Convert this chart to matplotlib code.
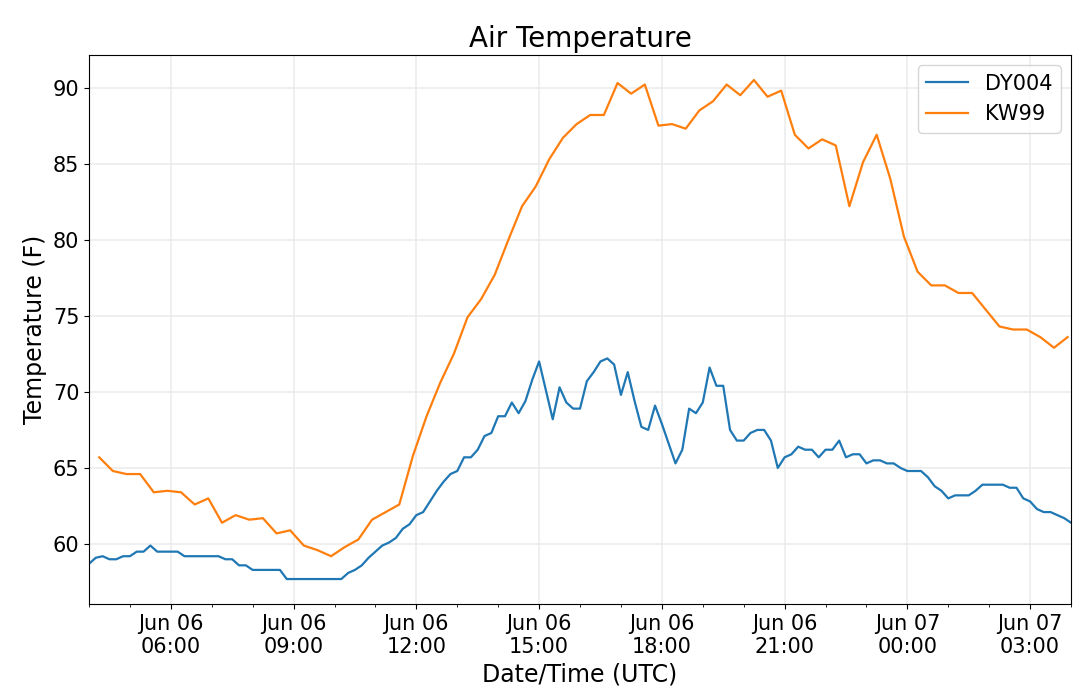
import pandas as pd
import matplotlib
matplotlib.use('Agg')
import matplotlib.pyplot as plt
import matplotlib.dates as mdates

#-----------------数据------------------
#DY004 每10分钟一个读数
dy004_temp = [58.7, 59.1, 59.2, 59.0, 59.0, 59.2, 59.2, 59.5, 59.5, 59.9,
              59.5, 59.5, 59.5, 59.5, 59.2, 59.2, 59.2, 59.2, 59.2, 59.2,
              59.0, 59.0, 58.6, 58.6, 58.3, 58.3, 58.3, 58.3, 58.3, 57.7,
              57.7, 57.7, 57.7, 57.7, 57.7, 57.7, 57.7, 57.7, 58.1, 58.3,
              58.6, 59.1, 59.5, 59.9, 60.1, 60.4, 61.0, 61.3, 61.9, 62.1,
              62.8, 63.5, 64.1, 64.6, 64.8, 65.7, 65.7, 66.2, 67.1, 67.3,
              68.4, 68.4, 69.3, 68.6, 69.4, 70.8, 72.0, 70.1, 68.2, 70.3,
              69.3, 68.9, 68.9, 70.7, 71.3, 72.0, 72.2, 71.8, 69.8, 71.3,
              69.4, 67.7, 67.5, 69.1, 67.9, 66.6, 65.3, 66.2, 68.9, 68.6,
              69.3, 71.6, 70.4, 70.4, 67.5, 66.8, 66.8, 67.3, 67.5, 67.5,
              66.8, 65.0, 65.7, 65.9, 66.4, 66.2, 66.2, 65.7, 66.2, 66.2,
              66.8, 65.7, 65.9, 65.9, 65.3, 65.5, 65.5, 65.3, 65.3, 65.0,
              64.8, 64.8, 64.8, 64.4, 63.8, 63.5, 63.0, 63.2, 63.2, 63.2,
              63.5, 63.9, 63.9, 63.9, 63.9, 63.7, 63.7, 63.0, 62.8, 62.3,
              62.1, 62.1, 61.9, 61.7, 61.4]

#KW99 每20分钟一个读数
kw99_temp = [65.7, 64.8, 64.6, 64.6, 63.4, 63.5, 63.4, 62.6, 63.0, 61.4,
             61.9, 61.6, 61.7, 60.7, 60.9, 59.9, 59.6, 59.2, 59.8, 60.3,
             61.6, 62.1, 62.6, 65.8, 68.4, 70.6, 72.5, 74.9, 76.1, 77.7,
             80.0, 82.2, 83.5, 85.3, 86.7, 87.6, 88.2, 88.2, 90.3, 89.6,
             90.2, 87.5, 87.6, 87.3, 88.5, 89.1, 90.2, 89.5, 90.5, 89.4,
             89.8, 86.9, 86.0, 86.6, 86.2, 82.2, 85.1, 86.9, 84.0, 80.2,
             77.9, 77.0, 77.0, 76.5, 76.5, 75.4, 74.3, 74.1, 74.1, 73.6,
             72.9, 73.6]

dy004_time = pd.date_range('2019-06-06 04:00', periods=len(dy004_temp), freq='10min')
kw99_time = pd.date_range('2019-06-06 04:15', periods=len(kw99_temp), freq='20min')

dy004 = pd.Series(dy004_temp, index=dy004_time)
kw99 = pd.Series(kw99_temp, index=kw99_time)

#-----------------绘图------------------
fig = plt.figure(figsize=(10.8, 6.94), dpi=100)
ax = fig.add_axes([0.0824, 0.1297, 0.9093, 0.791])

ax.plot(dy004.index, dy004.values, label='DY004', lw=1.6)
ax.plot(kw99.index, kw99.values, label='KW99', lw=1.6)

ax.set_xlim(dy004.index[0], dy004.index[-1])
ax.xaxis.set_major_locator(mdates.HourLocator(byhour=range(0, 24, 3)))
ax.xaxis.set_minor_locator(mdates.HourLocator())
ax.xaxis.set_major_formatter(mdates.DateFormatter('%b %d\n%H:%M'))

ax.grid(True, which='major', color='#ebebeb', lw=1.1)
ax.set_axisbelow(True)

ax.set_title('Air Temperature', fontsize=20)
ax.set_xlabel('Date/Time (UTC)', fontsize=17)
ax.set_ylabel('Temperature (F)', fontsize=17)
ax.tick_params(labelsize=15)
ax.legend(fontsize=15, loc='upper right')

fig.savefig('out.png', dpi=100)
